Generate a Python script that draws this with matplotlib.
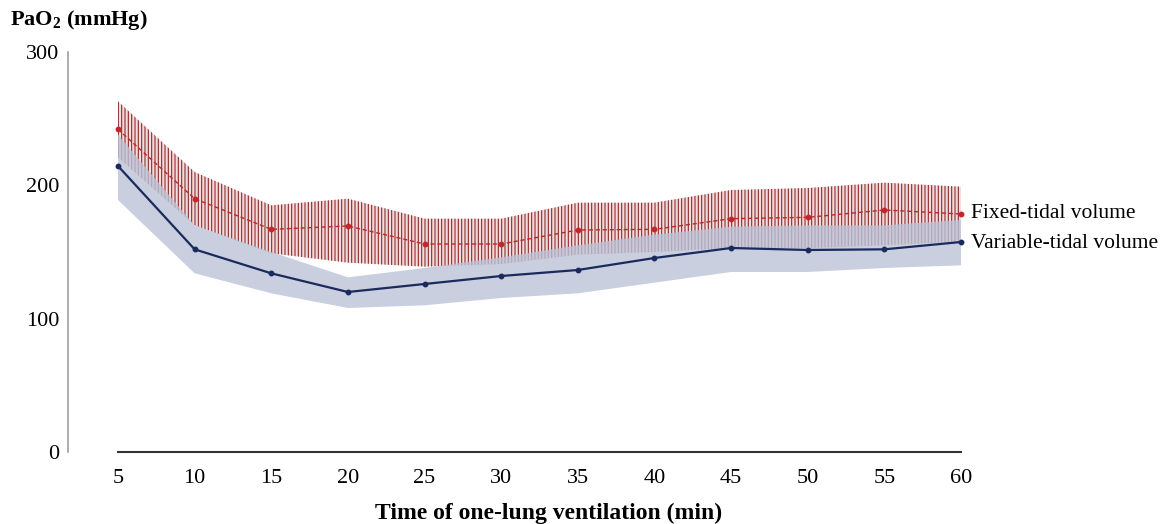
import matplotlib
matplotlib.use("Agg")
import matplotlib.pyplot as plt

times = [5, 10, 15, 20, 25, 30, 35, 40, 45, 50, 55, 60]
fixed_mean = [242, 190, 167, 169.5, 156, 156, 166.5, 167, 175, 176, 181.5, 178.5]
fixed_upper = [263, 210, 185, 190, 175, 175, 187, 187, 196.5, 198, 202, 199]
fixed_lower = [221, 170, 149, 142, 139, 141, 148, 150, 153, 153, 155, 158]
var_mean = [214.5, 152, 134, 120, 126, 132, 136.5, 145.5, 153, 151.5, 152, 157.5]
var_upper = [238, 170, 150, 131, 138, 146, 155, 163, 169, 170, 170, 174]
var_lower = [189, 134, 119, 108, 110, 115.5, 119, 127, 135, 135, 138, 140]
yticks = [0, 100, 200, 300]
fixed_label = "Fixed-tidal volume"
var_label = "Variable-tidal volume"

plt.rcParams['font.family'] = ['Liberation Serif', 'DejaVu Serif']
plt.rcParams['mathtext.fontset'] = 'custom'
plt.rcParams['mathtext.rm'] = 'Liberation Serif'
plt.rcParams['mathtext.bf'] = 'Liberation Serif:bold'
plt.rcParams['hatch.linewidth'] = 0.8

W, H = 1161, 524
fig = plt.figure(figsize=(W / 100, H / 100), dpi=100)
left_px, right_px, top_px, bot_px = 68, 1000, 52, 452
ax = fig.add_axes([left_px / W, 1 - bot_px / H, (right_px - left_px) / W, (bot_px - top_px) / H])

ppu = (961 - 118) / 55.0
x0 = 5 - (118 - left_px) / ppu
x1 = 60 + (right_px - 961) / ppu
ax.set_xlim(x0, x1)
ax.set_ylim(0, 300)

# fixed band (hatched)
ax.fill_between(times, fixed_lower, fixed_upper, facecolor='#f3dcdc', edgecolor='#8e2a2e',
                hatch='|||||', linewidth=0, zorder=1)
# variable band
ax.fill_between(times, var_lower, var_upper, facecolor='#bcc3d8', alpha=0.8, linewidth=0, zorder=2)

ax.plot(times, fixed_mean, color='#c0282a', lw=1.0, ls=(0, (3, 2)), marker='o', ms=3.2, zorder=4)
ax.plot(times, var_mean, color='#1b2a5c', lw=1.6, marker='o', ms=3.2, zorder=5)

for s in ['top', 'right']:
    ax.spines[s].set_visible(False)
ax.spines['left'].set_color('#a0a0a0')
ax.spines['left'].set_linewidth(1.2)
ax.spines['left'].set_bounds(0, 300)
ax.spines['bottom'].set_color('#333333')
ax.spines['bottom'].set_linewidth(1.5)
ax.spines['bottom'].set_bounds(5, 60)

ax.set_xticks(times)
ax.set_xticklabels([str(t) for t in times])
ax.set_yticks(yticks)
ax.set_yticklabels([str(v) for v in yticks])
ax.tick_params(axis='both', length=0, labelsize=16)
ax.tick_params(axis='x', pad=12)
ax.tick_params(axis='y', pad=6)

ax.annotate(fixed_label, xy=(times[-1], fixed_mean[-1]), xytext=(7, 0), textcoords='offset points',
            va='center', ha='left', fontsize=15.5, annotation_clip=False)
ax.annotate(var_label, xy=(times[-1], var_mean[-1]), xytext=(7, -1), textcoords='offset points',
            va='center', ha='left', fontsize=15.5, annotation_clip=False)

fig.text(549 / W, 1 - 513 / H, "Time of one-lung ventilation (min)", ha='center', va='center',
         fontsize=17, fontweight='bold')
fig.text(10 / W, 1 - 20 / H, r'PaO$_\mathbf{2}$ (mmHg)', ha='left', va='center',
         fontsize=16, fontweight='bold')

fig.savefig("out.png", dpi=100)
